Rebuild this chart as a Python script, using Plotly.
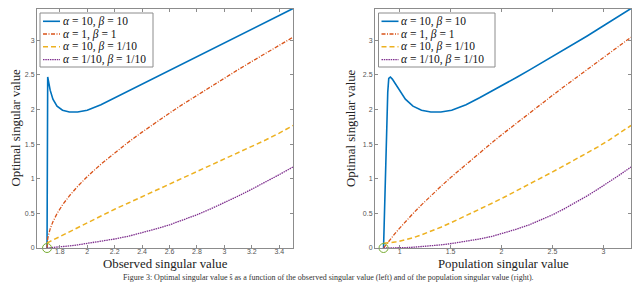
import plotly.graph_objects as go

# ---- data ----
observed_sv = [1.7071, 1.7075, 1.708, 1.709, 1.710, 1.712, 1.715, 1.72, 1.73, 1.75,
               1.78, 1.82, 1.87, 1.93, 2.0, 2.1, 2.2, 2.3, 2.4, 2.5,
               2.6, 2.7, 2.8, 2.9, 3.0, 3.1, 3.2, 3.3, 3.4, 3.5]
population_sv = [0.8409, 0.8594, 0.8691, 0.8822, 0.8921, 0.9081, 0.9271, 0.9525, 0.9928, 1.0552,
                 1.1300, 1.2137, 1.3051, 1.4040, 1.5102, 1.6513, 1.7841, 1.9113, 2.0345, 2.1546,
                 2.2723, 2.3880, 2.5020, 2.6147, 2.7263, 2.8369, 2.9466, 3.0556, 3.1639, 3.2716]

opt_a10_b10 = [0.0, 1.2, 1.75, 2.25, 2.45, 2.47, 2.44, 2.38, 2.28, 2.15,
               2.05, 1.99, 1.965, 1.965, 1.99, 2.07, 2.17, 2.27, 2.37, 2.47,
               2.57, 2.67, 2.76, 2.86, 2.96, 3.06, 3.16, 3.26, 3.36, 3.46]
opt_a1_b1 = [0.0, 0.036, 0.055, 0.079, 0.098, 0.128, 0.162, 0.207, 0.277, 0.380,
             0.497, 0.623, 0.754, 0.890, 1.031, 1.211, 1.375, 1.529, 1.674, 1.814,
             1.949, 2.080, 2.207, 2.332, 2.455, 2.576, 2.695, 2.813, 2.929, 3.045]
opt_a10_b01 = [0.07, 0.071, 0.072, 0.073, 0.074, 0.076, 0.079, 0.085, 0.095, 0.115,
               0.147, 0.19, 0.24, 0.30, 0.37, 0.465, 0.56, 0.65, 0.74, 0.83,
               0.92, 1.01, 1.10, 1.19, 1.28, 1.37, 1.46, 1.56, 1.66, 1.77]
opt_a01_b01 = [0.0, 0.0, 0.0001, 0.0003, 0.0005, 0.001, 0.0015, 0.0025, 0.004, 0.006,
               0.011, 0.018, 0.03, 0.045, 0.065, 0.095, 0.13, 0.17, 0.22, 0.275,
               0.335, 0.405, 0.48, 0.565, 0.655, 0.75, 0.85, 0.95, 1.06, 1.17]

threshold_observed = [1.7071]
threshold_population = [0.8409]
threshold_value = [0.0]

series_names = ["<i>α</i> = 10, <i>β</i> = 10", "<i>α</i> = 1, <i>β</i> = 1",
                "<i>α</i> = 10, <i>β</i> = 1/10", "<i>α</i> = 1/10, <i>β</i> = 1/10"]
series_values = [opt_a10_b10, opt_a1_b1, opt_a10_b01, opt_a01_b01]

left_xticks = [1.8, 2.0, 2.2, 2.4, 2.6, 2.8, 3.0, 3.2, 3.4]
left_xlabels = ["1.8", "2", "2.2", "2.4", "2.6", "2.8", "3", "3.2", "3.4"]
right_xticks = [1, 1.5, 2, 2.5, 3]
right_xlabels = ["1", "1.5", "2", "2.5", "3"]
yticks = [0, 0.5, 1, 1.5, 2, 2.5, 3]
ylabels = ["0", "0.5", "1", "1.5", "2", "2.5", "3"]

x_titles = ["Observed singular value", "Population singular value"]
y_title = "Optimal singular value"
caption = ("Figure 3: Optimal singular value ŝ as a function of the observed singular value (left) "
           "and of the population singular value (right).")

# ---- styles ----
colors = ["#0072BD", "#D95319", "#EDB120", "#7E2F8E"]
dashes = ["solid", "4px,1.5px,1px,1.5px", "5px,3px", "1.5px,0.8px"]
widths = [1.6, 1.3, 1.5, 1.3]
W, H = 640, 282
SERIF = "Liberation Serif, Times New Roman, serif"
AX = "#8c8c8c"


def px(x):
    return x / W


def py(y):
    return 1 - y / H


fig = go.Figure()
for panel, xs in [(1, observed_sv), (2, population_sv)]:
    xa = "x" if panel == 1 else "x2"
    ya = "y" if panel == 1 else "y2"
    for name, vals, c, d, w in zip(series_names, series_values, colors, dashes, widths):
        fig.add_trace(go.Scatter(x=xs, y=vals, mode="lines", name=name, showlegend=False,
                                 line=dict(color=c, dash=d, width=w),
                                 xaxis=xa, yaxis=ya))
    tx = threshold_observed if panel == 1 else threshold_population
    fig.add_trace(go.Scatter(x=tx, y=threshold_value, mode="markers", showlegend=False,
                             marker=dict(symbol="circle-open", size=9, color="#77AC30",
                                         line=dict(width=1)),
                             xaxis=xa, yaxis=ya, cliponaxis=False))

axis_common = dict(showline=True, linecolor=AX, linewidth=1, mirror="allticks",
                   ticks="inside", ticklen=3, tickcolor=AX, showgrid=False,
                   zeroline=False, tickfont=dict(family="Liberation Sans, Arial", size=7, color="#555"),
                   automargin=False)

ydom = [(H - 240) / H, 1.0 - 0.5 / H]
panels = [dict(ax0=29, ax1=285, ytitle_x=7.5, leg_x0=32, leg_x1=145),
          dict(ax0=367, ax1=623, ytitle_x=343, leg_x0=370.5, leg_x1=487)]

shapes = []
annotations = []
row_y = [13.3, 26.0, 38.8, 51.7]
for i, p in enumerate(panels):
    # axis titles
    annotations.append(dict(text=x_titles[i], xref="paper", yref="paper",
                            x=px((p["ax0"] + p["ax1"]) / 2), y=py(256), xanchor="center",
                            yanchor="middle", showarrow=False,
                            font=dict(family=SERIF, size=12.8, color="#222")))
    annotations.append(dict(text=y_title, xref="paper", yref="paper", textangle=-90,
                            x=px(p["ytitle_x"]), y=py(120), xanchor="center", yanchor="middle",
                            showarrow=False, font=dict(family=SERIF, size=12.8, color="#222")))
    # legend box
    shapes.append(dict(type="rect", xref="paper", yref="paper",
                       x0=px(p["leg_x0"]), x1=px(p["leg_x1"]), y0=py(59), y1=py(5),
                       line=dict(color=AX, width=1), fillcolor="white", layer="above"))
    for r, (name, c, d, w) in enumerate(zip(series_names, colors, dashes, widths)):
        yy = row_y[r]
        shapes.append(dict(type="line", xref="paper", yref="paper",
                           x0=px(p["leg_x0"] + 3), x1=px(p["leg_x0"] + 20), y0=py(yy), y1=py(yy),
                           line=dict(color=c, dash=d, width=w), layer="above"))
        annotations.append(dict(text=name, xref="paper", yref="paper",
                                x=px(p["leg_x0"] + 20.5), y=py(yy), xanchor="left", yanchor="middle",
                                showarrow=False, font=dict(family=SERIF, size=11.5, color="#111")))

annotations.append(dict(text=caption, xref="paper", yref="paper", x=0.5, y=py(269),
                        xanchor="center", yanchor="middle", showarrow=False,
                        font=dict(family=SERIF, size=8, color="#333")))

fig.update_layout(
    width=W, height=H, margin=dict(l=0, r=0, t=0, b=0),
    paper_bgcolor="white", plot_bgcolor="white", template="none", showlegend=False,
    xaxis=dict(domain=[px(29), px(285)], range=[1.634, 3.5], tickvals=left_xticks,
               ticktext=left_xlabels, anchor="y", ticklabelstandoff=-3, **axis_common),
    yaxis=dict(domain=ydom, range=[0, 3.46], tickvals=yticks, ticktext=ylabels, anchor="x",
               **axis_common),
    xaxis2=dict(domain=[px(367), px(623)], range=[0.757, 3.2716], tickvals=right_xticks,
                ticktext=right_xlabels, anchor="y2", ticklabelstandoff=-3, **axis_common),
    yaxis2=dict(domain=ydom, range=[0, 3.46], tickvals=yticks, ticktext=ylabels, anchor="x2",
                **axis_common),
    shapes=shapes,
    annotations=annotations,
)

fig.write_html("out.html", config={"displayModeBar": False})
